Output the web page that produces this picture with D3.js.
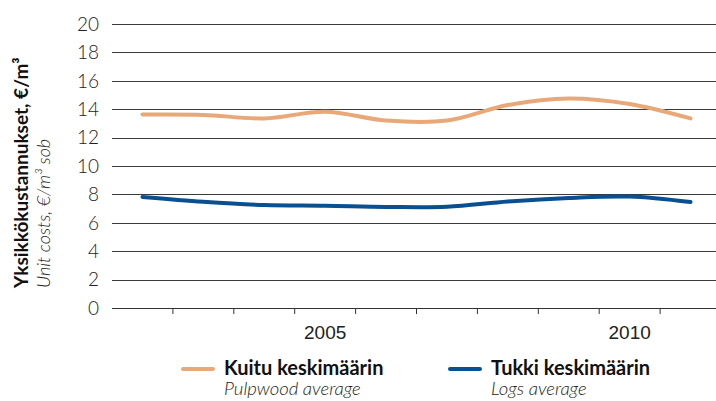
<!DOCTYPE html>
<html>
<head>
<meta charset="utf-8">
<script src="https://cdn.jsdelivr.net/npm/d3@7"></script>
<style>
  body { margin: 0; background: #fff; }
  svg { display: block; font-family: Lato, "Open Sans", sans-serif; }
</style>
</head>
<body>
<div id="chart"></div>
<script>
const years = [2002, 2003, 2004, 2005, 2006, 2007, 2008, 2009, 2010, 2011];
const pulpwood = [13.63, 13.6, 13.35, 13.82, 13.2, 13.2, 14.3, 14.76, 14.37, 13.35];
const logs = [7.82, 7.48, 7.25, 7.2, 7.12, 7.13, 7.5, 7.75, 7.85, 7.46];
const yTicks = [0, 2, 4, 6, 8, 10, 12, 14, 16, 18, 20];
const xLabels = [2005, 2010];

const width = 716;
const height = 401;
const margin = { top: 24, bottom: 93, left: 112, right: -5 };

const svg = d3.select('#chart')
    .append('svg')
    .attr('width', width)
    .attr('height', height);

const x = d3.scaleBand()
    .domain(years)
    .range([margin.left, width - margin.right]);

const y = d3.scaleLinear()
    .domain([0, 20])
    .range([height - margin.bottom, margin.top]);

// gridlines
svg.append('g')
    .selectAll('line')
    .data(yTicks.slice(1))
    .join('line')
    .attr('x1', margin.left)
    .attr('x2', width)
    .attr('y1', d => Math.round(y(d)) + 0.5)
    .attr('y2', d => Math.round(y(d)) + 0.5)
    .attr('stroke', '#3a3a3a')
    .attr('stroke-width', 1);

// y labels
svg.append('g')
    .selectAll('text')
    .data(yTicks)
    .join('text')
    .attr('x', 99)
    .attr('y', d => y(d))
    .attr('dy', '0.36em')
    .attr('text-anchor', 'end')
    .attr('font-size', '19px')
    .attr('font-weight', 300)
    .attr('fill', '#222')
    .text(d => d);

// x axis
function xAxis(g) {
    g.attr('transform', `translate(0,${Math.round(y(0))})`)
      .call(d3.axisBottom(x).tickSize(0).tickFormat(d => xLabels.includes(d) ? d : ''));
    g.select('.domain').remove();
    g.selectAll('text')
      .attr('font-size', '19px')
      .attr('font-weight', 300)
      .attr('fill', '#222')
      .attr('dy', '1.45em');
}
svg.append('g').call(xAxis);

svg.append('line')
    .attr('x1', margin.left).attr('x2', width)
    .attr('y1', Math.round(y(0)) + 0.5).attr('y2', Math.round(y(0)) + 0.5)
    .attr('stroke', '#333');

svg.append('g')
    .selectAll('line')
    .data(years.slice(1))
    .join('line')
    .attr('x1', d => x(d))
    .attr('x2', d => x(d))
    .attr('y1', Math.round(y(0)) + 0.5)
    .attr('y2', Math.round(y(0)) + 6)
    .attr('stroke', '#333');

// lines
const line = (vals) => d3.line()
    .x((d, i) => x(years[i]) + x.bandwidth() / 2)
    .y(d => y(d))
    .curve(d3.curveCatmullRom.alpha(0.5))(vals);

svg.append('path')
    .attr('d', line(pulpwood))
    .attr('fill', 'none')
    .attr('stroke', '#e8a877')
    .attr('stroke-width', 4)
    .attr('stroke-linecap', 'round');

svg.append('path')
    .attr('d', line(logs))
    .attr('fill', 'none')
    .attr('stroke', '#0a4f8f')
    .attr('stroke-width', 4)
    .attr('stroke-linecap', 'round');

// y title
const yt = svg.append('g').attr('transform', 'translate(28,288) rotate(-90)');
yt.append('text')
    .attr('font-size', '19px')
    .attr('font-weight', 'bold')
    .attr('fill', '#111')
    .text('Yksikkökustannukset, €/m³');
yt.append('text')
    .attr('y', 22)
    .attr('font-size', '18px')
    .attr('font-style', 'italic')
    .attr('font-weight', 300)
    .attr('fill', '#222')
    .text('Unit costs, €/m³ sob');

// legend
const legend = [
    { name: 'Kuitu keskimäärin', sub: 'Pulpwood average', color: '#e8a877', x: 183 },
    { name: 'Tukki keskimäärin', sub: 'Logs average', color: '#0a4f8f', x: 450 }
];
const lg = svg.append('g')
    .selectAll('g')
    .data(legend)
    .join('g')
    .attr('transform', d => `translate(${d.x},0)`);
lg.append('line')
    .attr('x1', 0).attr('x2', 30)
    .attr('y1', 369).attr('y2', 369)
    .attr('stroke', d => d.color)
    .attr('stroke-width', 4)
    .attr('stroke-linecap', 'round');
lg.append('text')
    .attr('x', 41).attr('y', 375)
    .attr('font-size', '20px')
    .attr('font-weight', 'bold')
    .attr('fill', '#111')
    .text(d => d.name);
lg.append('text')
    .attr('x', 41).attr('y', 395)
    .attr('font-size', '18.5px')
    .attr('font-style', 'italic')
    .attr('font-weight', 300)
    .attr('fill', '#222')
    .text(d => d.sub);
</script>
</body>
</html>
